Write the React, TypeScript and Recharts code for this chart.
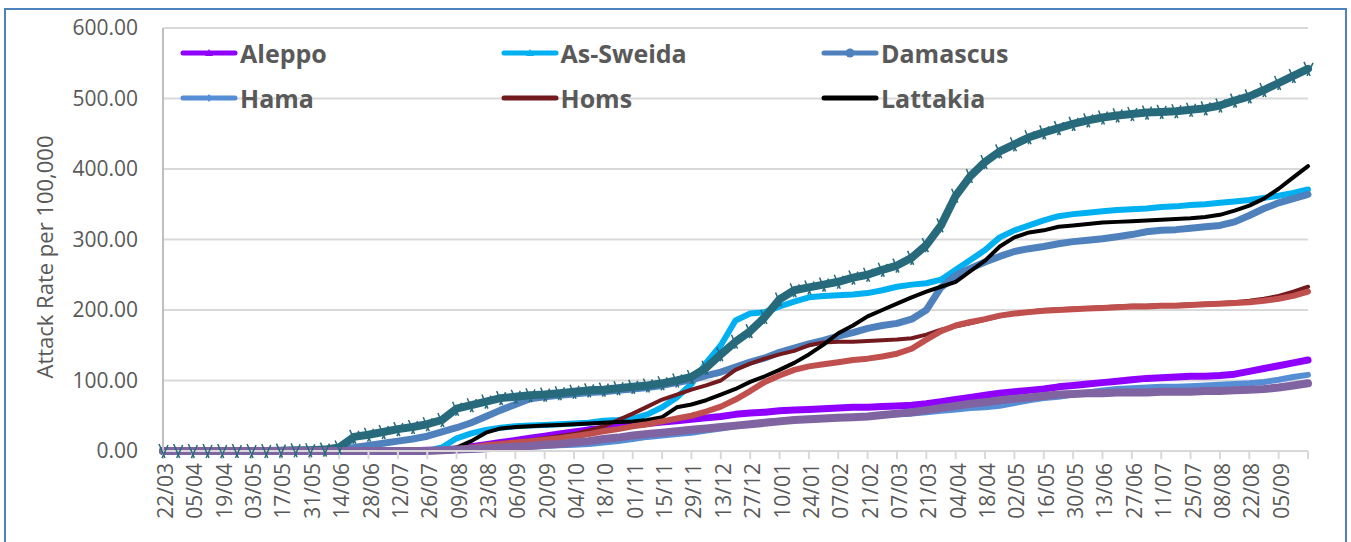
import { LineChart, Line, XAxis, YAxis, CartesianGrid, Legend } from "recharts"

// weekly samples, 22/03 (year 1) .. 19/09 (year 2)
const dates = [
  "22/03", "29/03", "05/04", "12/04", "19/04", "26/04", "03/05", "10/05", "17/05", "24/05",
  "31/05", "07/06", "14/06", "21/06", "28/06", "05/07", "12/07", "19/07", "26/07", "02/08",
  "09/08", "16/08", "23/08", "30/08", "06/09", "13/09", "20/09", "27/09", "04/10", "11/10",
  "18/10", "25/10", "01/11", "08/11", "15/11", "22/11", "29/11", "06/12", "13/12", "20/12",
  "27/12", "03/01", "10/01", "17/01", "24/01", "31/01", "07/02", "14/02", "21/02", "28/02",
  "07/03", "14/03", "21/03", "28/03", "04/04", "11/04", "18/04", "25/04", "02/05", "09/05",
  "16/05", "23/05", "30/05", "06/06", "13/06", "20/06", "27/06", "04/07", "11/07", "18/07",
  "25/07", "01/08", "08/08", "15/08", "22/08", "29/08", "05/09", "12/09", "19/09",
]

const yTicks = [0, 100, 200, 300, 400, 500, 600]

const aleppo = [
  0, 0, 0, 0, 0, 0, 0, 0, 0, 0,
  0, 0, 0, 0, 0, 0, 0.5, 0.5, 1, 1,
  3, 6, 9, 12, 15, 18, 21, 24, 27, 30,
  32, 34, 37, 39, 41, 43, 45, 47, 49, 52,
  54, 55, 57, 58, 59, 60, 61, 62, 62, 63,
  64, 65, 67, 70, 73, 76, 79, 82, 84, 86,
  88, 91, 93, 95, 97, 99, 101, 103, 104, 105,
  106, 106, 107, 109, 113, 117, 121, 125, 129,
]

const asSweida = [
  0, 0, 0, 0, 0, 0, 0, 0, 0, 0,
  0, 0, 0, 0, 0, 0, 0, 0, 0, 5,
  18, 25, 30, 33, 35, 36, 37, 38, 39, 40,
  43, 44, 46, 52, 62, 76, 95, 125, 150, 185,
  195, 197, 205, 212, 218, 220, 221, 222, 224, 228,
  233, 236, 238, 243, 257, 271, 285, 303, 313, 320,
  327, 333, 336, 338, 340, 342, 343, 344, 346, 347,
  349, 350, 352, 354, 356, 359, 362, 366, 371,
]

const damascus = [
  0, 0, 0, 0, 0, 0, 0, 0, 0, 0.5,
  1, 2, 3, 5, 8, 11, 14, 17, 21, 27,
  33, 40, 49, 58, 66, 74, 77, 79, 81, 83,
  84, 86, 88, 90, 93, 97, 101, 107, 112, 119,
  126, 132, 140, 146, 152, 157, 163, 168, 174, 178,
  181, 187, 200, 232, 249, 259, 268, 276, 283, 287,
  290, 294, 297, 299, 301, 304, 307, 311, 313, 314,
  316, 318, 320, 325, 334, 344, 352, 358, 364,
]

const hama = [
  0, 0, 0, 0, 0, 0, 0, 0, 0, 0,
  0, 0, 0, 0, 0, 0, 0, 0, 0, 0.5,
  1, 2, 3, 4, 5, 6, 7, 8, 9, 10,
  12, 14, 17, 20, 22, 24, 26, 29, 32, 35,
  38, 41, 43, 44, 45, 46, 47, 48, 49, 51,
  52, 53, 55, 57, 59, 61, 62, 64, 68, 72,
  75, 77, 80, 83, 86, 88, 89, 90, 91, 91,
  92, 93, 94, 95, 96, 98, 101, 105, 108,
]

const homs = [
  0, 0, 0, 0, 0, 0, 0, 0, 0, 0,
  0, 0, 0, 0, 0, 0, 0, 0, 0, 1,
  3, 5, 8, 11, 13, 15, 18, 21, 24, 29,
  35, 44, 53, 63, 73, 80, 87, 93, 100, 115,
  124, 131, 137, 142, 150, 154, 155, 155, 156, 157,
  158, 160, 165, 172, 177, 181, 186, 191, 195, 198,
  200, 201, 202, 203, 204, 205, 206, 206, 207, 207,
  208, 209, 210, 211, 213, 216, 220, 226, 233,
]

const lattakia = [
  0, 0, 0, 0, 0, 0, 0, 0, 0, 0,
  0, 0, 0, 0, 0, 0, 0, 0, 0, 1,
  5, 14, 26, 32, 34, 35, 36, 37, 38, 39,
  40, 41, 42, 44, 48, 62, 66, 72, 80, 88,
  98, 106, 115, 125, 137, 151, 167, 178, 191, 200,
  209, 218, 226, 233, 240, 255, 270, 290, 303, 310,
  313, 318, 320, 322, 324, 325, 326, 327, 328, 329,
  330, 332, 335, 341, 348, 358, 372, 388, 404,
]

// three more series drawn in the chart but missing from its legend
const extraTeal = [
  0, 0, 0, 0, 0, 0, 0, 0, 0.5, 1,
  1, 2, 5, 20, 23, 27, 31, 34, 38, 44,
  60, 65, 70, 75, 77, 79, 80, 82, 84, 86,
  87, 89, 91, 93, 96, 100, 105, 118, 137, 155,
  170, 190, 215, 228, 232, 236, 240, 246, 250, 257,
  263, 274, 292, 320, 362, 390, 410, 425, 435, 445,
  452, 458, 464, 469, 473, 476, 478, 480, 481, 482,
  484, 486, 490, 497, 503, 512, 522, 532, 542,
]

const extraRed = [
  0, 0, 0, 0, 0, 0, 0, 0, 0, 0,
  0, 0, 0, 0, 0, 0, 0, 0, 0, 0.5,
  2, 5, 8, 10, 12, 14, 16, 18, 21, 24,
  28, 31, 35, 38, 42, 46, 50, 56, 63, 73,
  85, 98, 107, 115, 120, 123, 126, 129, 131, 134,
  138, 145, 158, 170, 178, 183, 187, 192, 195, 197,
  199, 200, 201, 202, 203, 204, 205, 205, 206, 206,
  207, 208, 209, 210, 211, 213, 216, 220, 226,
]

const extraMauve = [
  0, 0, 0, 0, 0, 0, 0, 0, 0, 0,
  0, 0, 0, 0, 0, 0, 0, 0, 0, 1,
  2, 3, 4, 5, 6, 7, 9, 10, 12, 14,
  17, 19, 22, 24, 26, 28, 30, 32, 34, 36,
  38, 40, 42, 44, 45, 46, 47, 48, 49, 51,
  53, 55, 58, 61, 64, 67, 69, 72, 74, 76,
  78, 80, 81, 82, 82, 83, 83, 83, 84, 84,
  84, 85, 85, 86, 87, 88, 90, 93, 96,
]

const series = [
  { key: "aleppo", name: "Aleppo", values: aleppo, color: "#8f00ff", width: 7, marker: "triangle" },
  { key: "asSweida", name: "As-Sweida", values: asSweida, color: "#00b0f0", width: 6, marker: "triangle" },
  { key: "damascus", name: "Damascus", values: damascus, color: "#4f81bd", width: 7, marker: "circle" },
  { key: "hama", name: "Hama", values: hama, color: "#558ed5", width: 6, marker: "diamond" },
  { key: "homs", name: "Homs", values: homs, color: "#731a1e", width: 4, marker: "" },
  { key: "lattakia", name: "Lattakia", values: lattakia, color: "#000000", width: 4, marker: "" },
  { key: "extraTeal", name: "", values: extraTeal, color: "#276a7c", width: 8, marker: "" },
  { key: "extraRed", name: "", values: extraRed, color: "#c0504d", width: 6, marker: "" },
  { key: "extraMauve", name: "", values: extraMauve, color: "#8064a2", width: 8, marker: "" },
]

const data = dates.map((date, i) => {
  const row: Record<string, any> = { date }
  series.forEach((s) => (row[s.key] = s.values[i]))
  return row
})

const FONT = "'Open Sans', 'Noto Sans', sans-serif"
const GREY = "#595959"

function DateTick(props: any) {
  const { x, y, payload } = props
  if (payload.value === dates[dates.length - 1]) return <g />
  return (
    <text
      x={x}
      y={y}
      transform={`rotate(-90, ${x}, ${y})`}
      textAnchor="end"
      dominantBaseline="central"
      dy={2}
      fill={GREY}
      fontSize={21}
      fontFamily={FONT}
    >
      {payload.value}
    </text>
  )
}

function spikeDot(props: any) {
  const { cx, cy, index } = props
  if (cx == null || cy == null) return <g key={index} />
  return (
    <path
      key={index}
      d={`M${cx - 4},${cy - 7}L${cx + 2},${cy + 7}M${cx + 5},${cy - 6}L${cx - 1},${cy + 7}`}
      stroke="#276a7c"
      strokeWidth={1.5}
      fill="none"
    />
  )
}

function Marker({ type, color }: { type: string; color: string }) {
  if (type === "triangle") return <path d="M29,3 L33,10 L25,10 Z" fill={color} />
  if (type === "circle") return <circle cx={29} cy={7} r={4.5} fill={color} />
  if (type === "diamond") return <path d="M29,3 L32,7 L29,11 L26,7 Z" fill={color} />
  return null
}

function ChartLegend() {
  const items = series.filter((s) => s.name)
  return (
    <div style={{ position: "relative", width: 1351, height: 130 }}>
      {items.map((s, i) => {
        const col = i % 3
        const row = Math.floor(i / 3)
        return (
          <div
            key={s.key}
            style={{
              position: "absolute",
              left: 180 + col * 320.5,
              top: 53 + row * 45 - 17,
              height: 34,
              display: "flex",
              alignItems: "center",
              whiteSpace: "nowrap",
            }}
          >
            <svg width={58} height={14} style={{ marginRight: 2 }}>
              <line x1={3} y1={7} x2={55} y2={7} stroke={s.color} strokeWidth={5} strokeLinecap="round" />
              <Marker type={s.marker} color={s.color} />
            </svg>
            <span style={{ fontFamily: FONT, fontWeight: 700, fontSize: 25, color: GREY }}>{s.name}</span>
          </div>
        )
      })}
    </div>
  )
}

export default function App() {
  return (
    <div style={{ position: "absolute", left: 0, top: 0, width: 1351, height: 542, overflow: "hidden", background: "#fff" }}>
      <div
        style={{
          position: "absolute",
          left: 4,
          top: 8,
          width: 1343,
          height: 560,
          border: "2px solid #4f81bd",
          boxSizing: "border-box",
        }}
      />
      <LineChart width={1351} height={542} data={data} margin={{ top: 28, right: 43, left: 0, bottom: 6 }}>
        <CartesianGrid vertical={false} stroke="#d9d9d9" strokeWidth={2} />
        <XAxis
          dataKey="date"
          interval={1}
          height={85}
          tick={<DateTick />}
          tickSize={8}
          tickMargin={4}
          tickLine={{ stroke: "#d9d9d9", strokeWidth: 2 }}
          axisLine={{ stroke: "#d9d9d9", strokeWidth: 2 }}
        />
        <XAxis xAxisId="top" orientation="top" dataKey="date" height={0} tick={false} tickLine={false} axisLine={{ stroke: "#bfbfbf", strokeWidth: 2 }} />
        <YAxis
          width={163}
          domain={[0, 600]}
          ticks={yTicks}
          tickFormatter={(v: number) => v.toFixed(2)}
          tickSize={0}
          tickMargin={25}
          tickLine={false}
          axisLine={{ stroke: "#bfbfbf", strokeWidth: 2 }}
          tick={{ fill: GREY, fontSize: 21, fontFamily: FONT }}
          label={{
            content: () => (
              <text
                x={44}
                y={257}
                transform="rotate(-90, 44, 257)"
                textAnchor="middle"
                dominantBaseline="central"
                fill={GREY}
                fontSize={22}
                fontFamily={FONT}
              >
                Attack Rate per 100,000
              </text>
            ),
          }}
        />
        <YAxis yAxisId="right" orientation="right" width={0} domain={[0, 600]} tick={false} tickLine={false} axisLine={{ stroke: "#bfbfbf", strokeWidth: 2 }} />
        <Legend
          layout="horizontal"
          verticalAlign="middle"
          align="center"
          wrapperStyle={{ left: 0, top: 0, width: 1351, height: 130 }}
          content={() => <ChartLegend />}
        />
        {series.map((s) => (
          <Line
            key={s.key}
            type="linear"
            dataKey={s.key}
            name={s.name || s.key}
            stroke={s.color}
            strokeWidth={s.width}
            strokeLinejoin="round"
            strokeLinecap="round"
            dot={s.key === "extraTeal" ? spikeDot : false}
            activeDot={false}
            legendType="none"
            isAnimationActive={false}
          />
        ))}
      </LineChart>
    </div>
  )
}
